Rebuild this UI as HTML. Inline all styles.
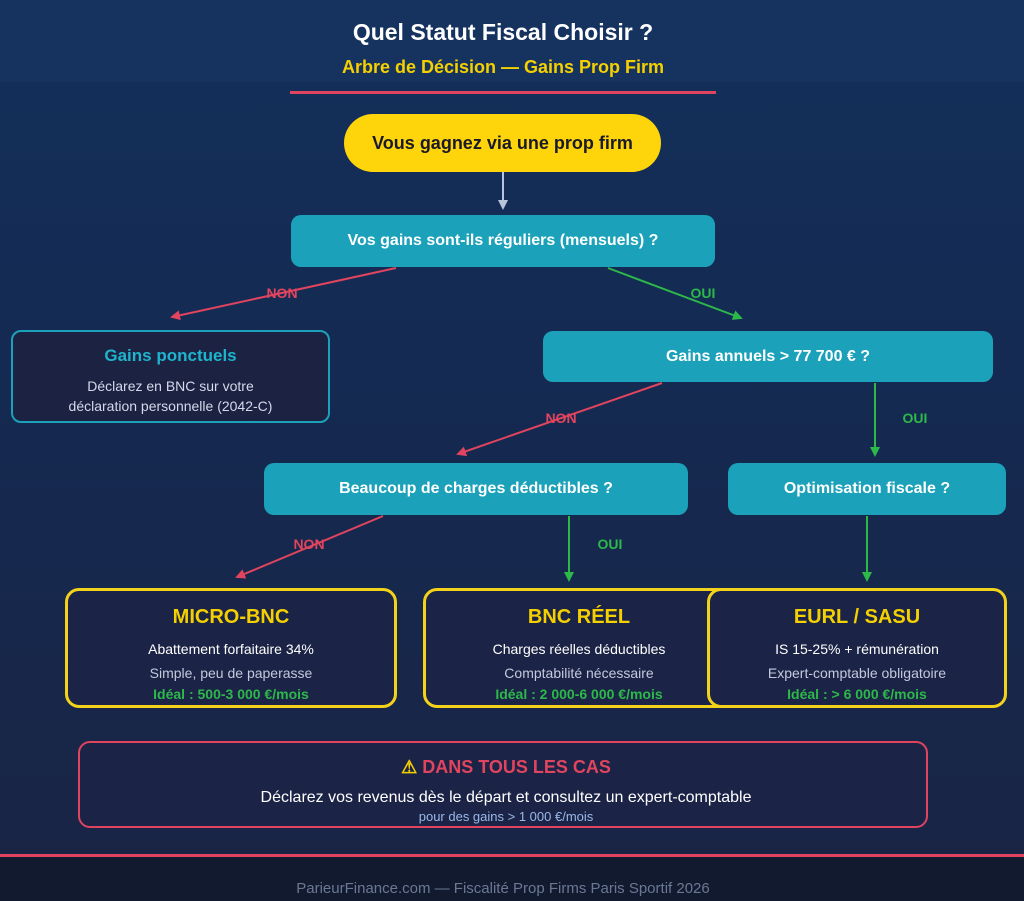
<!DOCTYPE html>
<html><head><meta charset="utf-8"><style>
*{margin:0;padding:0;box-sizing:border-box}
body{width:1024px;height:901px;position:relative;overflow:hidden;font-family:"Liberation Sans",sans-serif;background:linear-gradient(#13305b 0%,#142a52 40%,#1a2444 100%)}
.hdr{position:absolute;left:0;top:0;width:1024px;height:82px;background:#163360}
.t{position:absolute;left:0;width:1024px;text-align:center;font-weight:bold;white-space:nowrap}
.box{position:absolute;display:flex;align-items:center;justify-content:center;font-weight:bold;color:#fff;font-size:16px}
.teal{background:#1ba1b9;border-radius:10px}
.res{position:absolute;border:3px solid #f2d21a;border-radius:14px;background:#1b2346}
.res div{position:absolute;left:0;width:100%;text-align:center;white-space:nowrap}
.foot{position:absolute;left:0;top:857px;width:1024px;height:44px;background:#121a2f}
</style></head><body>
<div class="hdr"></div>
<div class="t" style="top:19px;font-size:23px;color:#fff;left:-9px">Quel Statut Fiscal Choisir ?</div>
<div class="t" style="top:57px;font-size:18px;color:#f5d000;left:-9px">Arbre de Décision — Gains Prop Firm</div>
<div style="position:absolute;left:290px;top:91px;width:426px;height:3px;background:#e0445e"></div>
<div class="box" style="left:344px;top:114px;width:317px;height:58px;border-radius:29px;background:#fed40a;color:#1a1a2a;font-size:18px">Vous gagnez via une prop firm</div>
<div class="box teal" style="left:291px;top:215px;width:424px;height:52px">Vos gains sont-ils réguliers (mensuels) ?</div>
<div style="position:absolute;left:11px;top:330px;width:319px;height:93px;border:2px solid #1ba1b9;border-radius:10px;background:#1b2242"></div>
<div style="position:absolute;left:11px;top:346px;width:319px;text-align:center;color:#1fb3cc;font-weight:bold;font-size:17px">Gains ponctuels</div>
<div style="position:absolute;left:11px;top:376px;width:319px;text-align:center;color:#d5d9ea;font-size:14px;line-height:20px">Déclarez en BNC sur votre<br>déclaration personnelle (2042-C)</div>
<div class="box teal" style="left:543px;top:331px;width:450px;height:51px">Gains annuels &gt; 77 700 € ?</div>
<div class="box teal" style="left:264px;top:463px;width:424px;height:52px">Beaucoup de charges déductibles ?</div>
<div class="box teal" style="left:728px;top:463px;width:278px;height:52px">Optimisation fiscale ?</div>
<svg style="position:absolute;left:0;top:0" width="1024" height="901">
<defs>
<marker id="r" markerWidth="5" markerHeight="5" refX="4" refY="2.5" orient="auto"><path d="M0,0L5,2.5L0,5z" fill="#e0445e"/></marker>
<marker id="g" markerWidth="5" markerHeight="5" refX="4" refY="2.5" orient="auto"><path d="M0,0L5,2.5L0,5z" fill="#2db84a"/></marker>
<marker id="w" markerWidth="5" markerHeight="5" refX="4" refY="2.5" orient="auto"><path d="M0,0L5,2.5L0,5z" fill="#b8c4dc"/></marker>
</defs>
<g stroke-width="2" fill="none">
<line x1="503" y1="172" x2="503" y2="208" stroke="#b8c4dc" marker-end="url(#w)"/>
<line x1="396" y1="268" x2="172" y2="317" stroke="#e0445e" marker-end="url(#r)"/>
<line x1="608" y1="268" x2="741" y2="318" stroke="#2db84a" marker-end="url(#g)"/>
<line x1="662" y1="383" x2="458" y2="454" stroke="#e0445e" marker-end="url(#r)"/>
<line x1="875" y1="383" x2="875" y2="455" stroke="#2db84a" marker-end="url(#g)"/>
<line x1="383" y1="516" x2="237" y2="577" stroke="#e0445e" marker-end="url(#r)"/>
<line x1="569" y1="516" x2="569" y2="580" stroke="#2db84a" marker-end="url(#g)"/>
<line x1="867" y1="516" x2="867" y2="580" stroke="#2db84a" marker-end="url(#g)"/>
</g>
<g font-family="Liberation Sans" font-weight="bold" font-size="14" text-anchor="middle">
<text x="282" y="298" fill="#e0445e">NON</text>
<text x="703" y="298" fill="#2db84a">OUI</text>
<text x="561" y="423" fill="#e0445e">NON</text>
<text x="915" y="423" fill="#2db84a">OUI</text>
<text x="309" y="549" fill="#e0445e">NON</text>
<text x="610" y="549" fill="#2db84a">OUI</text>
</g>
</svg>
<div class="res" style="left:65px;top:588px;width:332px;height:120px">
<div style="top:15px;font-size:20px;font-weight:bold;color:#f5d000">MICRO-BNC</div>
<div style="top:50px;font-size:14px;color:#fff">Abattement forfaitaire 34%</div>
<div style="top:74px;font-size:14px;color:#c4c9dc">Simple, peu de paperasse</div>
<div style="top:95px;font-size:14px;font-weight:bold;color:#2db84a">Idéal : 500-3 000 €/mois</div>
</div>
<div class="res" style="left:423px;top:588px;width:312px;height:120px">
<div style="top:15px;font-size:20px;font-weight:bold;color:#f5d000">BNC RÉEL</div>
<div style="top:50px;font-size:14px;color:#fff">Charges réelles déductibles</div>
<div style="top:74px;font-size:14px;color:#c4c9dc">Comptabilité nécessaire</div>
<div style="top:95px;font-size:14px;font-weight:bold;color:#2db84a">Idéal : 2 000-6 000 €/mois</div>
</div>
<div class="res" style="left:707px;top:588px;width:300px;height:120px">
<div style="top:15px;font-size:20px;font-weight:bold;color:#f5d000">EURL / SASU</div>
<div style="top:50px;font-size:14px;color:#fff">IS 15-25% + rémunération</div>
<div style="top:74px;font-size:14px;color:#c4c9dc">Expert-comptable obligatoire</div>
<div style="top:95px;font-size:14px;font-weight:bold;color:#2db84a">Idéal : &gt; 6 000 €/mois</div>
</div>
<div style="position:absolute;left:78px;top:741px;width:850px;height:87px;border:2px solid #e0445e;border-radius:12px;background:#1b2346"></div>
<div class="t" style="top:757px;left:-6px;font-size:18px;color:#e0445e"><span style="color:#f5d000">⚠</span> DANS TOUS LES CAS</div>
<div class="t" style="top:789px;left:-6px;font-size:16px;color:#fff;font-weight:normal">Déclarez vos revenus dès le départ et consultez un expert-comptable</div>
<div class="t" style="top:809px;left:-6px;font-size:13px;color:#9bb8e8;font-weight:normal">pour des gains &gt; 1 000 €/mois</div>
<div style="position:absolute;left:0;top:854px;width:1024px;height:3px;background:#e0445e"></div>
<div class="foot"></div>
<div class="t" style="top:880px;left:-9px;font-size:15px;color:#6b7894;font-weight:normal">ParieurFinance.com — Fiscalité Prop Firms Paris Sportif 2026</div>
</body></html>
